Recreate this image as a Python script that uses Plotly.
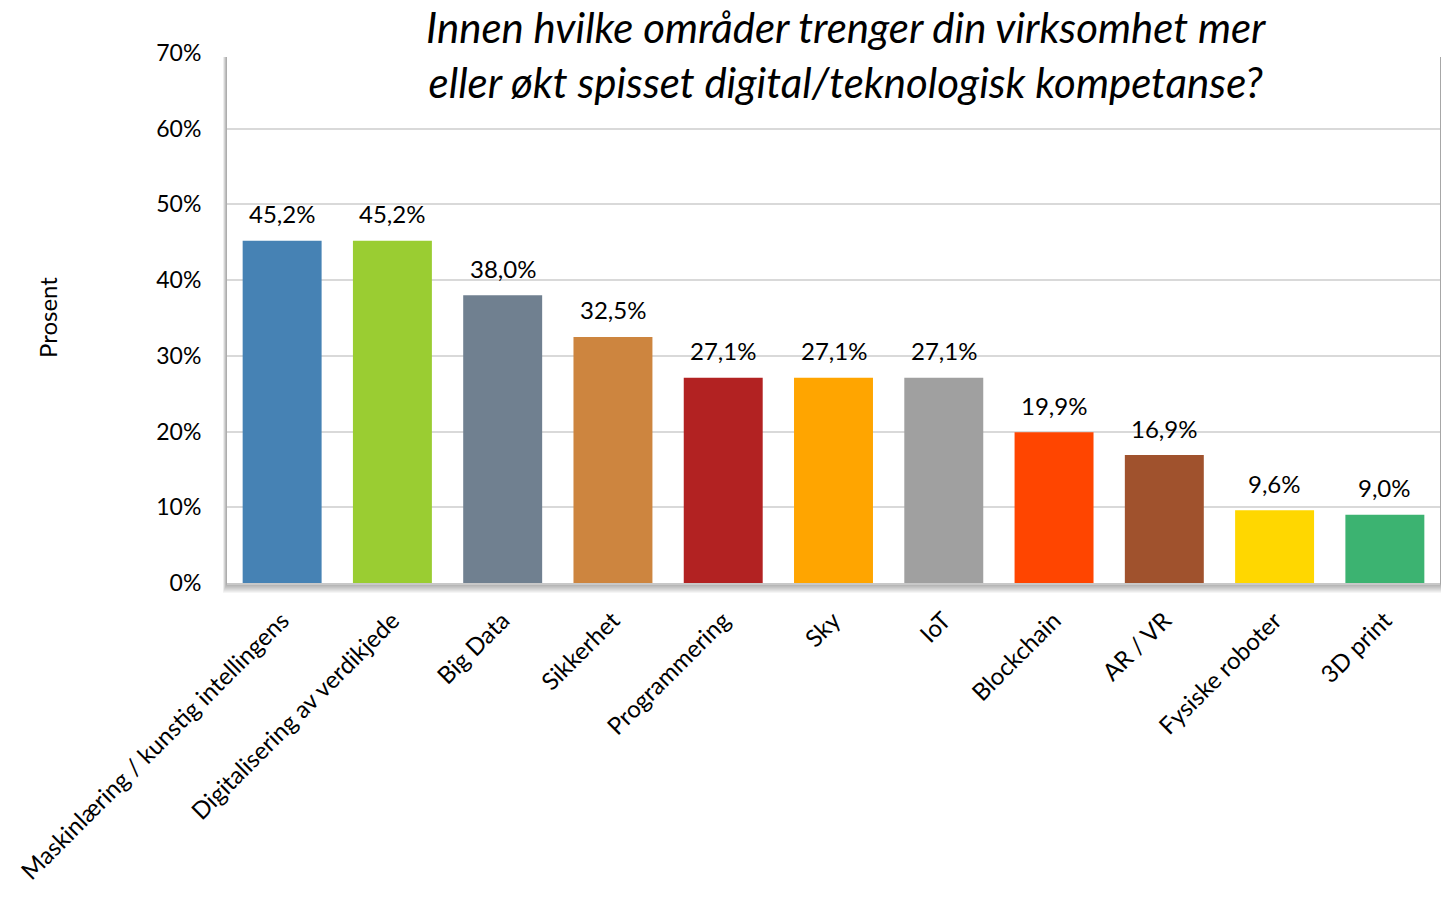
import plotly.graph_objects as go

categories = ["Maskinlæring / kunstig intellingens", "Digitalisering av verdikjede", "Big Data",
              "Sikkerhet", "Programmering", "Sky", "IoT", "Blockchain", "AR / VR",
              "Fysiske roboter", "3D print"]
values = [45.2, 45.2, 38.0, 32.5, 27.1, 27.1, 27.1, 19.9, 16.9, 9.6, 9.0]
colors = ["#4682B4", "#9ACD32", "#708090", "#CD853F", "#B22222", "#FFA500",
          "#A0A0A0", "#FF4500", "#A0522D", "#FFD700", "#3CB371"]
y_ticks = [0, 10, 20, 30, 40, 50, 60, 70]
y_tick_labels = [f"{t}%" for t in y_ticks]
title_lines = ["Innen hvilke områder trenger din virksomhet mer",
               "eller økt spisset digital/teknologisk kompetanse?"]

FONT = "Lato"
OFF = 0  # body margin removed via post_script
# page-pixel geometry of the plot area
PL, PR, PT, PB = 227, 1440, 53, 583
W, H = 1441, 901
L, T = PL - OFF, PT - OFF
R = W - (PR - OFF)
B = H - (PB - OFF)
pw, ph = PR - PL, PB - PT

labels = [f"{v:.1f}%".replace(".", ",") for v in values]

fig = go.Figure(go.Bar(
    x=categories, y=values, marker=dict(color=colors, line=dict(width=0)),
    cliponaxis=False, hoverinfo="x+y",
))


def px_x(p):
    return (p - PL) / pw


def px_y(p):
    return 1 - (p - PT) / ph


shapes = []
# soft shadow around plot area
for off in range(10, 0, -1):
    shapes.append(dict(type="rect", xref="paper", yref="paper", layer="below",
                       x0=px_x(PL - off * 0.4), x1=px_x(PR + 1),
                       y0=px_y(PB + off), y1=px_y(PT + 4),
                       fillcolor="rgba(0,0,0,0.04)", line=dict(width=0)))
shapes.append(dict(type="rect", xref="paper", yref="paper", layer="below",
                   x0=0, x1=1, y0=0, y1=1, fillcolor="white", line=dict(width=0)))

annotations = [
    dict(text="<br>".join(title_lines), xref="paper", yref="paper",
         x=px_x(846), y=px_y(1), showarrow=False, xanchor="center", yanchor="top",
         align="center", borderpad=0,
         font=dict(family=FONT, size=42, color="#000000", style="italic")),
    dict(text="Prosent", xref="paper", yref="paper", x=px_x(47), y=px_y(318),
         showarrow=False, xanchor="center", yanchor="middle", textangle=-90,
         font=dict(family=FONT, size=24, color="#000000")),
]
for c, v, t in zip(categories, values, labels):
    annotations.append(dict(text=t, x=c, y=v, xref="x", yref="y", showarrow=False,
                            xanchor="center", yanchor="middle", yshift=27,
                            font=dict(family=FONT, size=24, color="#000000")))

fig.update_layout(
    width=W, height=H, autosize=False,
    margin=dict(l=L, r=R, t=T, b=B, pad=0),
    paper_bgcolor="white", plot_bgcolor="rgba(0,0,0,0)",
    bargap=0.284, showlegend=False,
    shapes=shapes, annotations=annotations,
    font=dict(family=FONT, color="#000000"),
    xaxis=dict(tickangle=-45, tickfont=dict(family=FONT, size=24, color="#000000"),
               showline=True, linecolor="#C8C8C8", linewidth=2,
               ticks="outside", ticklen=12, tickcolor="rgba(0,0,0,0)",
               showgrid=False, fixedrange=True),
    yaxis=dict(range=[0, 70], tickvals=y_ticks, ticktext=y_tick_labels,
               tickfont=dict(family=FONT, size=23, color="#000000"),
               showgrid=True, gridcolor="#D9D9D9", gridwidth=2,
               zeroline=False, showline=False,
               ticks="outside", ticklen=20, tickcolor="rgba(0,0,0,0)",
               fixedrange=True),
)

fig.write_html("out.html", config={"displayModeBar": False},
               post_script="document.body.style.margin='0px';document.body.style.overflow='hidden';")
